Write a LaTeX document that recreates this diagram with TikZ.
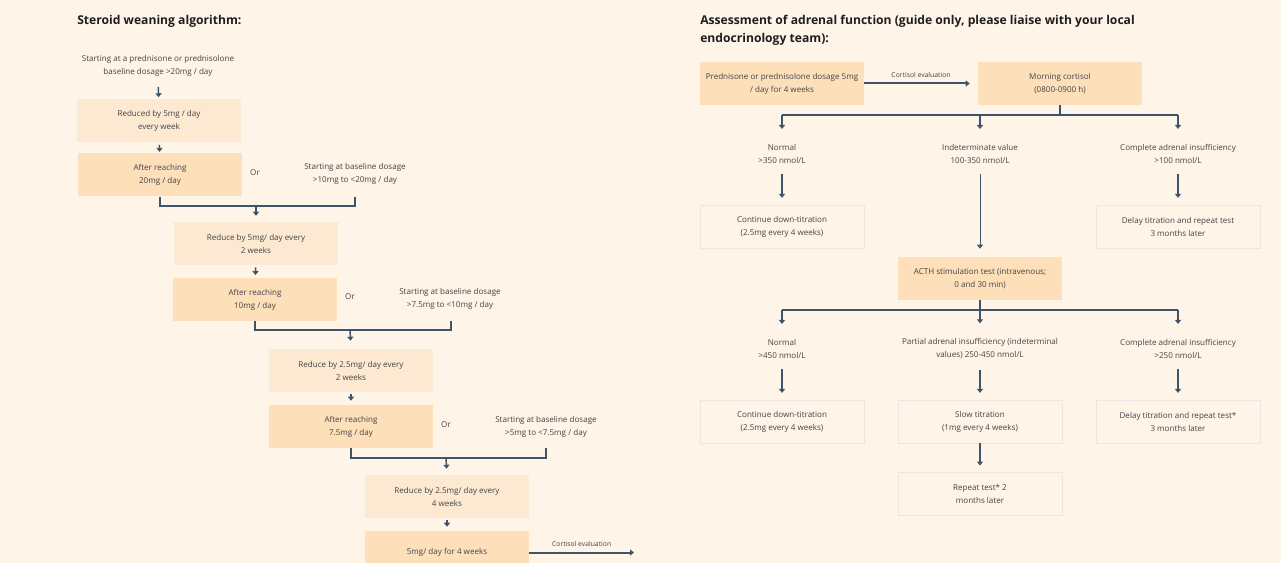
\documentclass[tikz,border=0pt]{standalone}
\usepackage{fontspec}
\setmainfont{Open Sans}
\usetikzlibrary{arrows.meta}
\definecolor{bg}{HTML}{FFF4E8}
\definecolor{lightbox}{HTML}{FDE9D2}
\definecolor{darkbox}{HTML}{FDDFBA}
\definecolor{edgeg}{HTML}{ECE7E2}
\definecolor{ln}{HTML}{3E5468}
\definecolor{txt}{HTML}{444444}
\definecolor{ttlc}{HTML}{1E1E1E}
\begin{document}
\begin{tikzpicture}[x=0.75pt,y=-0.75pt,
  every node/.style={font=\fontsize{6.05}{9.75}\selectfont, text=txt, align=center, inner sep=0pt},
  lbox/.style={fill=lightbox, minimum width=123pt, minimum height=32.25pt},
  dbox/.style={fill=darkbox, minimum width=123pt, minimum height=32.25pt},
  obox/.style={draw=edgeg, line width=0.7pt, minimum width=123pt, minimum height=32.25pt},
  ttl/.style={font=\fontsize{9.1}{13.5}\selectfont\bfseries, text=ttlc, align=left, anchor=north west},
  smalllbl/.style={font=\fontsize{5.1}{6}\selectfont},
  tip/.style={-{Triangle[width=4.5pt,length=3pt]}},
  arr/.style={draw=ln, line width=1.1pt, tip},
  thinarr/.style={draw=ln, line width=0.7pt, tip},
  brk/.style={draw=ln, line width=1.5pt},
  lng/.style={draw=ln, line width=1.5pt, tip}
]
\fill[bg] (0,0) rectangle (1281,563);
\useasboundingbox (0,0) rectangle (1281,563);

% ---------------- Left: steroid weaning ----------------
\node[ttl] (t1) at (77,15) {Steroid weaning algorithm:};
\node (s0) at (158,65.5) {Starting at a prednisone or prednisolone\\baseline dosage >20mg / day};
\node[lbox] (b1) at (159,121) {Reduced by 5mg / day\\every week};
\node[dbox] (b2) at (160,175) {After reaching\\20mg / day};
\node (or1) at (255,173) {Or};
\node (a1) at (355,174) {Starting at baseline dosage\\>10mg to <20mg / day};
\node[lbox] (b3) at (256,243.5) {Reduce by 5mg/ day every\\2 weeks};
\node[dbox] (b4) at (255,299.5) {After reaching\\10mg / day};
\node (or2) at (350,297) {Or};
\node (a2) at (450,298.5) {Starting at baseline dosage\\>7.5mg to <10mg / day};
\node[lbox] (b5) at (351,370.5) {Reduce by 2.5mg/ day every\\2 weeks};
\node[dbox] (b6) at (351,426.5) {After reaching\\7.5mg / day};
\node (or3) at (446,425) {Or};
\node (a3) at (546,426.5) {Starting at baseline dosage\\>5mg to <7.5mg / day};
\node[lbox] (b7) at (447,496.5) {Reduce by 2.5mg/ day every\\4 weeks};
\node[dbox] (b8) at (447,552.5) {5mg/ day for 4 weeks};
\coordinate (ce) at (634,552.5);

\draw[arr, shorten <=8pt, shorten >=1.5pt] (s0) -- (b1);
\draw[arr, shorten <=1.5pt, shorten >=1pt] (b1) -- (b2);
\draw[arr, shorten <=1.5pt, shorten >=2pt] (b3) -- (b4);
\draw[arr, shorten <=1.5pt, shorten >=3pt] (b5) -- (b6);
\draw[arr, shorten <=1.5pt, shorten >=3pt] (b7) -- (b8);

\coordinate (a1b) at (355,197);
\coordinate (j1) at (256,206);
\draw[brk] (b2.south) -- ++(0,9) -| (a1b);
\draw[arr, shorten >=4.5pt] (j1) -- (b3.north);

\coordinate (a2b) at (451,321);
\coordinate (j2) at (350,330);
\draw[brk] (b4.south) -- ++(0,9) -| (a2b);
\draw[arr, shorten >=6pt] (j2) -- (b5.north);

\coordinate (a3b) at (546,448);
\coordinate (j3) at (446,458);
\draw[brk] (b6.south) -- ++(0,10) -| (a3b);
\draw[arr, shorten >=4.5pt] (j3) -- (b7.north);

\draw[lng] (b8.east) -- node[smalllbl, above=3.5pt] (ce1) {Cortisol evaluation} (ce);

% ---------------- Right: adrenal function ----------------
\node[ttl] (t2) at (700,15) {Assessment of adrenal function (guide only, please liaise with your local\\endocrinology team):};
\node[dbox] (r1) at (782,83.5) {Prednisone or prednisolone dosage 5mg\\/ day for 4 weeks};
\node[dbox] (r2) at (1060,83.5) {Morning cortisol\\(0800-0900 h)};
\draw[lng, shorten >=6pt] (r1.east) -- node[smalllbl, above=3.5pt] (ce2) {Cortisol evaluation} (r2.west);

\coordinate (h1) at (1060,115);
\coordinate (h1l) at (782,115);
\coordinate (h1m) at (980,115);
\coordinate (h1r) at (1178,115);
\draw[brk] (r2.south) -- (h1);
\draw[brk] (h1l) -- (h1r);

\node (m1) at (782,153.5) {Normal\\>350 nmol/L};
\node (m2) at (980,153.5) {Indeterminate value\\100-350 nmol/L};
\node (m3) at (1178,153.5) {Complete adrenal insufficiency\\>100 nmol/L};
\draw[arr, shorten >=11pt] (h1l) -- (m1);
\draw[arr, shorten >=11pt] (h1m) -- (m2);
\draw[arr, shorten >=11pt] (h1r) -- (m3);

\node[obox] (o1) at (782,226.5) {Continue down-titration\\(2.5mg every 4 weeks)};
\node[obox] (o2) at (1178,226.5) {Delay titration and repeat test\\3 months later};
\node[dbox] (c) at (980,278.5) {ACTH stimulation test (intravenous;\\0 and 30 min)};
\draw[lng, shorten <=8pt, shorten >=5pt] (m1) -- (o1);
\draw[lng, shorten <=8pt, shorten >=5pt] (m3) -- (o2);
\draw[thinarr, shorten <=8pt, shorten >=6pt] (m2) -- (c);

\coordinate (h2) at (980,310);
\coordinate (h2l) at (782,310);
\coordinate (h2r) at (1178,310);
\draw[brk] (c.south) -- (h2);
\draw[brk] (h2l) -- (h2r);

\node (p1) at (782,348.5) {Normal\\>450 nmol/L};
\node (p2) at (980,348.5) {Partial adrenal insufficiency (indeterminal\\values) 250-450 nmol/L};
\node (p3) at (1178,348.5) {Complete adrenal insufficiency\\>250 nmol/L};
\draw[arr, shorten >=11pt] (h2l) -- (p1);
\draw[arr, shorten >=11pt] (h2) -- (p2);
\draw[arr, shorten >=11pt] (h2r) -- (p3);

\node[obox] (q1) at (782,421.5) {Continue down-titration\\(2.5mg every 4 weeks)};
\node[obox] (q2) at (980,421.5) {Slow titration\\(1mg every 4 weeks)};
\node[obox] (q3) at (1178,421.5) {Delay titration and repeat test*\\3 months later};
\draw[lng, shorten <=8pt, shorten >=5pt] (p1) -- (q1);
\draw[lng, shorten <=8pt, shorten >=5pt] (p2) -- (q2);
\draw[lng, shorten <=8pt, shorten >=5pt] (p3) -- (q3);

\node[obox] (q4) at (980,493.5) {Repeat test* 2\\months later};
\draw[lng, shorten >=4.5pt] (q2) -- (q4);
\end{tikzpicture}
\end{document}
